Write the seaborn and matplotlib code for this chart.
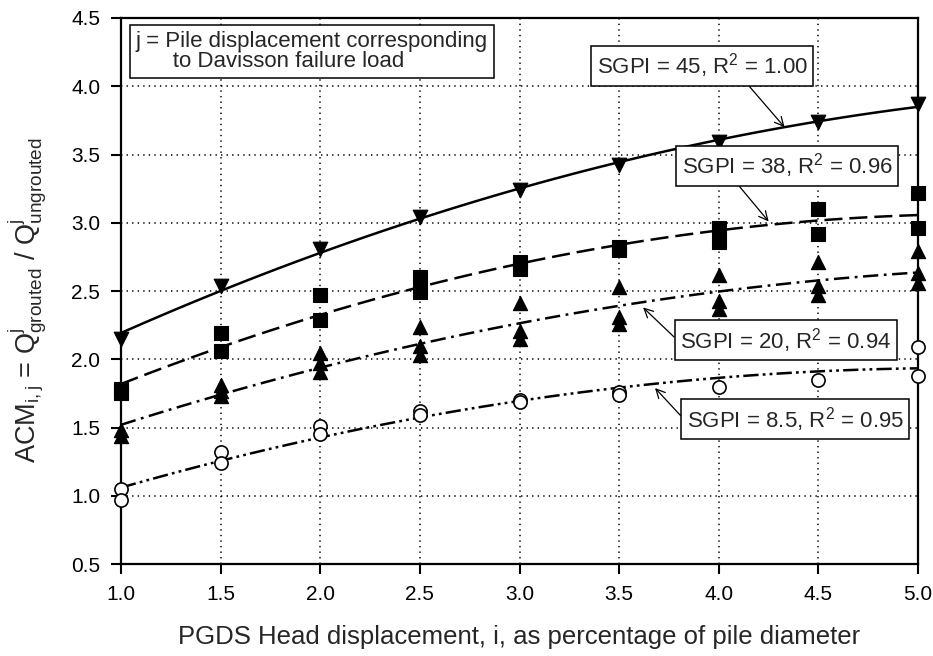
import numpy as np
import matplotlib
matplotlib.use("Agg")
import matplotlib.pyplot as plt
import seaborn as sns

# ---- data ----
x_45 = [1.0, 1.5, 2.0, 2.5, 3.0, 3.5, 4.0, 4.5, 5.0]
y_45 = [2.15, 2.54, 2.81, 3.04, 3.24, 3.42, 3.59, 3.74, 3.87]

x_38 = [1.0, 1.0, 1.5, 1.5, 2.0, 2.0, 2.5, 2.5, 3.0, 3.0,
        3.5, 3.5, 4.0, 4.0, 4.5, 4.5, 5.0, 5.0]
y_38 = [1.75, 1.78, 2.19, 2.06, 2.47, 2.29, 2.60, 2.49, 2.71, 2.66,
        2.82, 2.80, 2.96, 2.86, 3.10, 2.92, 3.22, 2.96]

x_20 = [1.0, 1.0, 1.5, 1.5, 1.5, 2.0, 2.0, 2.0, 2.5, 2.5, 2.5,
        3.0, 3.0, 3.0, 3.5, 3.5, 3.5, 4.0, 4.0, 4.0,
        4.5, 4.5, 4.5, 5.0, 5.0, 5.0]
y_20 = [1.48, 1.44, 1.81, 1.77, 1.73, 2.05, 1.97, 1.91, 2.24, 2.10, 2.03,
        2.41, 2.21, 2.15, 2.53, 2.31, 2.26, 2.62, 2.43, 2.37,
        2.71, 2.54, 2.47, 2.79, 2.63, 2.56]

x_85 = [1.0, 1.0, 1.5, 1.5, 2.0, 2.0, 2.5, 2.5, 3.0, 3.0,
        3.5, 3.5, 4.0, 4.5, 5.0, 5.0]
y_85 = [1.05, 0.97, 1.32, 1.24, 1.51, 1.45, 1.62, 1.59, 1.70, 1.69,
        1.76, 1.74, 1.80, 1.85, 2.09, 1.88]

labels = ["SGPI = 45, R$^{\\mathregular{2}}$ = 1.00",
          "SGPI = 38, R$^{\\mathregular{2}}$ = 0.96",
          "SGPI = 20, R$^{\\mathregular{2}}$ = 0.94",
          "SGPI = 8.5, R$^{\\mathregular{2}}$ = 0.95"]
note = "j = Pile displacement corresponding\n      to Davisson failure load"

sns.set_style("ticks")
plt.rcParams["font.family"] = ["Liberation Sans", "DejaVu Sans"]
plt.rcParams["mathtext.fontset"] = "custom"
plt.rcParams["mathtext.rm"] = "Liberation Sans"
plt.rcParams["mathtext.it"] = "Liberation Sans"
plt.rcParams["lines.scale_dashes"] = False

fig = plt.figure(figsize=(9.33, 6.56), dpi=100)
ax = fig.add_axes([0.1297, 0.140, 0.8543, 0.8326])

lw = 1.8
styles = [
    (x_45, y_45, "-"),
    (x_38, y_38, (0, (13, 5))),
    (x_20, y_20, (0, (11, 4, 2, 4))),
    (x_85, y_85, (0, (11, 3, 2, 3, 2, 3))),
]
for xs, ys, ls in styles:
    sns.regplot(x=xs, y=ys, order=2, ci=None, scatter=False, color="black",
                line_kws={"lw": lw, "ls": ls, "zorder": 3}, ax=ax)

mk = dict(clip_on=False, zorder=5, legend=False, ax=ax)
sns.scatterplot(x=x_45, y=y_45, marker="v", s=110, color="black", edgecolor="black", **mk)
sns.scatterplot(x=x_38, y=y_38, marker="s", s=95, color="black", edgecolor="black", **mk)
sns.scatterplot(x=x_20, y=y_20, marker="^", s=105, color="black", edgecolor="black", **mk)
sns.scatterplot(x=x_85, y=y_85, marker="o", s=90, color="white", edgecolor="black",
                linewidth=1.2, **mk)

ax.set_xlim(1.0, 5.0)
ax.set_ylim(0.5, 4.5)
ax.set_xticks(np.arange(1.0, 5.01, 0.5))
ax.set_yticks(np.arange(0.5, 4.51, 0.5))
ax.xaxis.set_major_formatter(matplotlib.ticker.FormatStrFormatter("%.1f"))
ax.yaxis.set_major_formatter(matplotlib.ticker.FormatStrFormatter("%.1f"))
ax.grid(True, ls=(0, (1, 3)), color="black", lw=1.1)
ax.tick_params(axis="both", labelsize=15, length=7, width=1.5, direction="out",
               colors="black", pad=8)
for sp in ax.spines.values():
    sp.set_visible(True)
    sp.set_linewidth(1.6)
    sp.set_color("black")

ax.set_xlabel("PGDS Head displacement, i, as percentage of pile diameter",
              fontsize=18.5, labelpad=15)
ax.set_ylabel("ACM$_{\\mathregular{i,j}}$ = Q$^{\\mathregular{j}}_{\\mathregular{grouted}}$"
              " / Q$^{\\mathregular{j}}_{\\mathregular{ungrouted}}$",
              fontsize=19.5)
ax.yaxis.set_label_coords(-0.09, 0.4835)

box = dict(boxstyle="square,pad=0.25", fc="white", ec="black", lw=1.1)
arrow = dict(arrowstyle="->", color="black", lw=0.9, shrinkA=0, shrinkB=0)
ann = [
    (labels[0], (3.916, 4.148), (4.33, 3.70), (0.7, 0.0)),
    (labels[1], (4.343, 3.416), (4.25, 3.01), (0.25, 0.0)),
    (labels[2], (4.337, 2.141), (3.62, 2.38), (0.0, 0.4)),
    (labels[3], (4.383, 1.562), (3.68, 1.79), (0.0, 0.4)),
]
for txt, pos, tip, rp in ann:
    a = dict(arrow, relpos=rp)
    ax.annotate(txt, xy=tip, xytext=pos, ha="center", va="center", fontsize=16,
                bbox=box, arrowprops=a, zorder=6)

ax.text(1.075, 4.405, note, ha="left", va="top", fontsize=16, linespacing=0.95,
        bbox=dict(boxstyle="square,pad=0.25", fc="white", ec="black", lw=1.1), zorder=6)

fig.savefig("out.png", dpi=100)
